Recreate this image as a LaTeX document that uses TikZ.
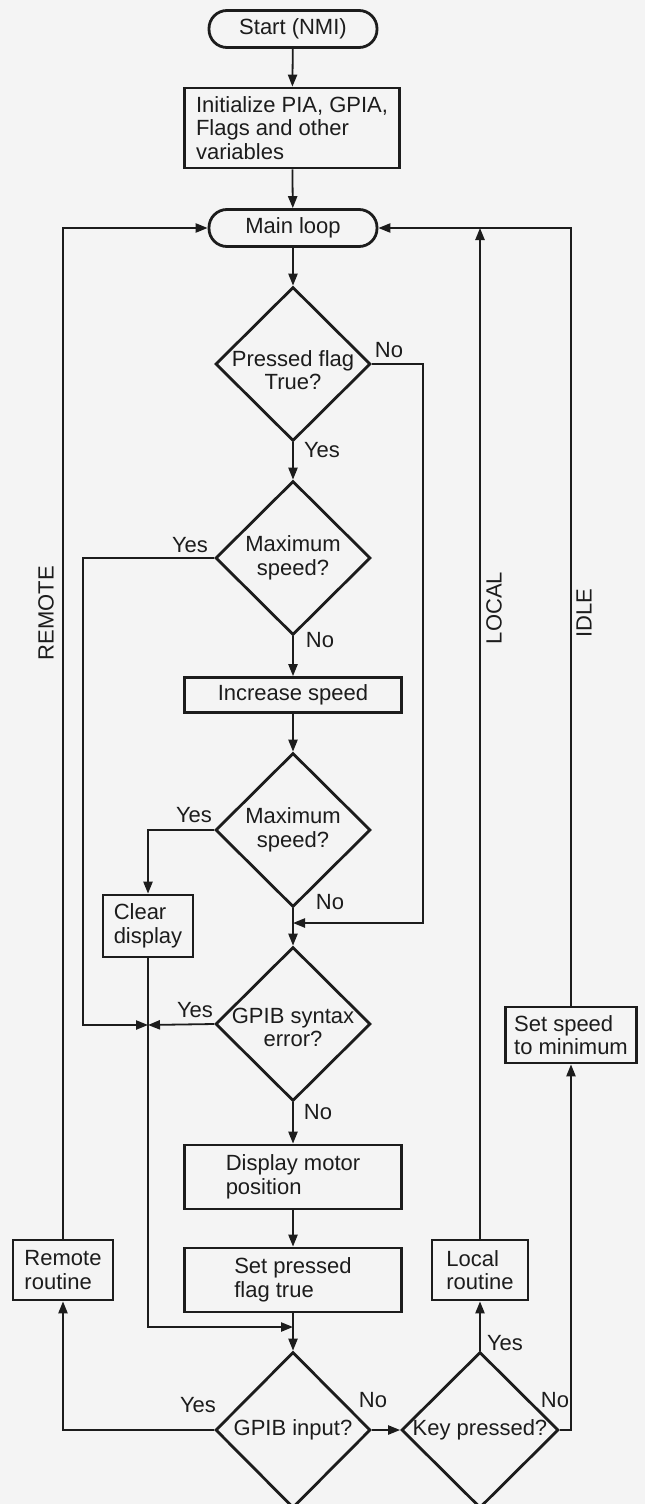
\documentclass[tikz,border=0pt]{standalone}
\usepackage{fontspec}
\setmainfont{Liberation Sans}
\usetikzlibrary{arrows.meta,shapes.geometric}
\definecolor{paper}{RGB}{244,244,244}
\definecolor{ink}{RGB}{28,28,28}

\begin{document}
\begin{tikzpicture}[x=0.5pt,y=-0.5pt,
  every node/.style={font=\fontsize{11}{11.8}\selectfont,text=ink},
  box/.style={draw=ink,line width=1.4pt,inner sep=2pt,align=left},
  term/.style={box,align=center,rounded corners=9pt,minimum width=84pt,minimum height=18.5pt},
  decide/.style={draw=ink,line width=1.4pt,diamond,inner sep=-6pt,align=center,
    minimum width=77.5pt,minimum height=77pt},
  flow/.style={draw=ink,line width=0.9pt,-{Triangle[length=6pt,width=4.6pt]}},
  lbl/.style={inner sep=0pt}]
  \fill[paper] (0,0) rectangle (645,1504);
  \useasboundingbox (0,0) rectangle (645,1504);
  % main column
  \node[term] (start) at (293,29) {Start (NMI)};
  \node[box,minimum width=107.5pt,minimum height=40pt] (init) at (292,128)
    {Initialize PIA, GPIA,\\Flags and other\\variables};
  \node[term] (mainloop) at (293,228) {Main loop};
  \node[decide] (pressed) at (293,364) {\rule{0pt}{14pt}Pressed flag\\True?};
  \node[decide] (maxa) at (293,558) {Maximum\\speed?};
  \node[box,minimum width=108.5pt,minimum height=17.5pt] (incr) at (293,695) {Increase speed};
  \node[decide] (maxb) at (293,830) {Maximum\\speed?};
  \node[decide] (syntax) at (293,1024) {\rule{0pt}{11pt}GPIB syntax\\error?};
  \node[box,minimum width=108.5pt,minimum height=32pt] (motor) at (293,1177) {Display motor\\position};
  \node[box,minimum width=108.5pt,minimum height=32pt] (setflag) at (293,1280) {Set pressed\\flag true};
  \node[decide,minimum height=78pt] (gpibin) at (293,1430) {GPIB input?};
  \node[decide,minimum width=78.5pt,minimum height=78pt] (keypr) at (480,1430) {Key pressed?};
  % side boxes
  \node[box,minimum width=45pt,minimum height=31pt] (clear) at (148,926) {Clear\\display};
  \node[box,minimum width=50pt,minimum height=30pt] (remote) at (63,1270) {Remote\\routine};
  \node[box,minimum width=48pt,minimum height=30pt] (local) at (480,1270) {Local\\routine};
  \node[box,minimum width=65.5pt,minimum height=28pt] (setspeed) at (571,1035) {Set speed\\to minimum};
  % joins
  \coordinate (j1) at (293,923);
  \coordinate (j2) at (148,1025);
  \coordinate (j3) at (293,1327);
  % connectors
  \draw[flow] (start) -- (init);
  \draw[flow] (init) -- (mainloop);
  \draw[flow] (mainloop) -- (pressed);
  \draw[flow] (pressed) -- (maxa);
  \draw[flow] (pressed.east) -- ++(51,0) |- (j1);
  \draw[flow] (maxa) -- (incr);
  \draw[flow] (maxa.west) -- ++(-131,0) |- (j2);
  \draw[flow] (incr) -- (maxb);
  \draw[flow] (maxb.west) -| (clear.north);
  \draw[flow] (maxb) -- (syntax);
  \draw[flow] (syntax.west) -- (j2);
  \draw[flow] (clear.south) |- (j3);
  \draw[flow] (syntax) -- (motor);
  \draw[flow] (motor) -- (setflag);
  \draw[flow] (setflag) -- (gpibin);
  \draw[flow] (gpibin.west) -| (remote.south);
  \draw[flow] (gpibin.east) -- (keypr.west);
  \draw[flow] (keypr.north) -- (local.south);
  \draw[flow] (keypr.east) -| (setspeed.south);
  \draw[flow] (remote.north) |- (mainloop.west);
  \draw[flow] (local.north) -- (local.north |- mainloop.east);
  \draw[flow] (setspeed.north) |- (mainloop.east);
  % yes / no
  \node[lbl] (nopf) at (389,350) {No};
  \node[lbl] (yespf) at (322,450) {Yes};
  \node[lbl] (yesma) at (190,545) {Yes};
  \node[lbl] (noma) at (320,640) {No};
  \node[lbl] (yesmb) at (194,815) {Yes};
  \node[lbl] (nomb) at (330,902) {No};
  \node[lbl] (yessy) at (195,1010) {Yes};
  \node[lbl] (nosy) at (318,1112) {No};
  \node[lbl] (yesgi) at (198,1405) {Yes};
  \node[lbl] (nogi) at (373,1400) {No};
  \node[lbl] (yeskp) at (505,1343) {Yes};
  \node[lbl] (nokp) at (555,1400) {No};
  % loop names
  \node[lbl,rotate=90] (remotelbl) at (46,613) {REMOTE};
  \node[lbl,rotate=90] (locallbl) at (494,608) {LOCAL};
  \node[lbl,rotate=90] (idlelbl) at (584,613) {IDLE};
\end{tikzpicture}
\end{document}
